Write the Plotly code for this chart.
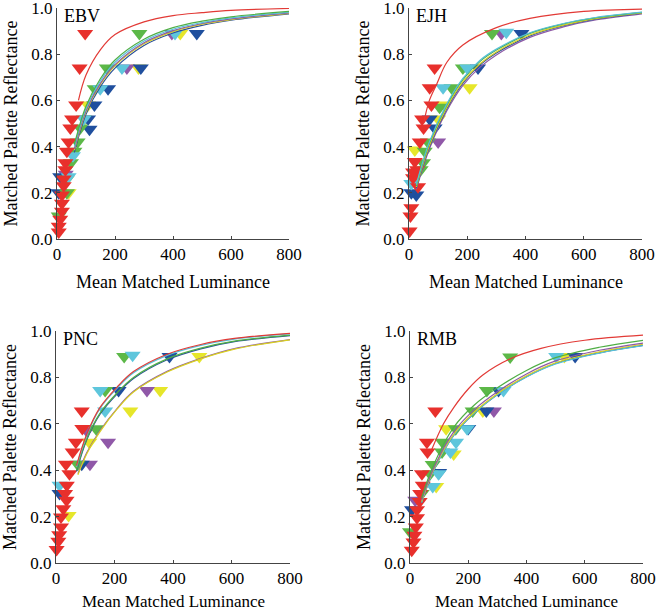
import plotly.graph_objects as go
from plotly.subplots import make_subplots

PANEL_NAMES = ["EBV", "EJH", "PNC", "RMB"]
X_TICKS = [0, 200, 400, 600, 800]
Y_TICKS = [0.0, 0.2, 0.4, 0.6, 0.8, 1.0]
X_TITLE = "Mean Matched Luminance"
Y_TITLE = "Matched Palette Reflectance"
SERIES = ["yellow", "purple", "blue", "green", "cyan", "red"]

# ---------------- EBV markers ----------------
EBV_RED_X = [97, 78, 66, 52, 46, 40, 34, 29, 29, 23, 23, 17, 17, 17, 11, 6, 6]
EBV_RED_Y = [0.89, 0.74, 0.58, 0.52, 0.48, 0.42, 0.38, 0.33, 0.30, 0.26, 0.23, 0.19, 0.155, 0.12, 0.085, 0.055, 0.03]
EBV_GREEN_X = [284, 172, 130, 80, 71, 60, 48, 34, 34, 6]
EBV_GREEN_Y = [0.89, 0.74, 0.65, 0.48, 0.42, 0.38, 0.33, 0.26, 0.20, 0.10]
EBV_CYAN_X = [407, 224, 149, 92, 55, 40]
EBV_CYAN_Y = [0.89, 0.74, 0.65, 0.52, 0.36, 0.27]
EBV_PURPLE_X = [396, 241, 30]
EBV_PURPLE_Y = [0.89, 0.74, 0.28]
EBV_YELLOW_X = [425, 281, 107, 94, 40]
EBV_YELLOW_Y = [0.89, 0.74, 0.58, 0.52, 0.20]
EBV_BLUE_X = [482, 289, 176, 129, 107, 112, 11, 6]
EBV_BLUE_Y = [0.89, 0.74, 0.65, 0.58, 0.52, 0.475, 0.27, 0.20]

# ---------------- EJH markers ----------------
EJH_RED_X = [88, 71, 77, 45, 50, 37, 20, 28, 14, 31, 14, 8, 5, 2]
EJH_RED_Y = [0.74, 0.655, 0.58, 0.52, 0.48, 0.42, 0.335, 0.30, 0.265, 0.226, 0.29, 0.135, 0.10, 0.035]
EJH_GREEN_X = [285, 185, 146, 105, 65, 54, 48, 40]
EJH_GREEN_Y = [0.89, 0.74, 0.655, 0.57, 0.42, 0.38, 0.33, 0.30]
EJH_CYAN_X = [334, 200, 117, 8]
EJH_CYAN_Y = [0.895, 0.74, 0.655, 0.24]
EJH_PURPLE_X = [317, 100]
EJH_PURPLE_Y = [0.89, 0.42]
EJH_YELLOW_X = [208, 122, 100, 20]
EJH_YELLOW_Y = [0.655, 0.58, 0.52, 0.385]
EJH_BLUE_X = [386, 237, 71, 88, 25, 8]
EJH_BLUE_Y = [0.89, 0.74, 0.52, 0.48, 0.19, 0.20]

# ---------------- PNC markers ----------------
PNC_RED_X = [88, 90, 68, 57, 34, 46, 37, 31, 36, 25, 17, 17, 11, 8, 2]
PNC_RED_Y = [0.655, 0.58, 0.52, 0.478, 0.426, 0.385, 0.335, 0.30, 0.27, 0.234, 0.198, 0.155, 0.122, 0.094, 0.058]
PNC_GREEN_X = [233, 168, 137, 74]
PNC_GREEN_Y = [0.89, 0.744, 0.579, 0.426]
PNC_CYAN_X = [262, 151, 168, 12]
PNC_CYAN_Y = [0.895, 0.744, 0.655, 0.335]
PNC_BLUE_X = [388, 214, 88, 12]
PNC_BLUE_Y = [0.89, 0.744, 0.426, 0.30]
PNC_PURPLE_X = [311, 178, 116, 105]
PNC_PURPLE_Y = [0.744, 0.52, 0.426, 0.57]
PNC_YELLOW_X = [490, 356, 254, 114, 43]
PNC_YELLOW_Y = [0.89, 0.744, 0.655, 0.52, 0.205]

# ---------------- RMB markers ----------------
RMB_RED_X = [87, 58, 60, 41, 44, 35, 33, 24, 24, 20, 15, 12, 6]
RMB_RED_Y = [0.655, 0.52, 0.478, 0.385, 0.335, 0.30, 0.265, 0.23, 0.195, 0.155, 0.12, 0.09, 0.055]
RMB_GREEN_X = [344, 264, 215, 157, 112, 110, 78, 69, 40, 0]
RMB_GREEN_Y = [0.888, 0.744, 0.655, 0.579, 0.52, 0.478, 0.425, 0.385, 0.30, 0.135]
RMB_CYAN_X = [502, 321, 196, 158, 139, 98, 78]
RMB_CYAN_Y = [0.89, 0.744, 0.579, 0.52, 0.478, 0.385, 0.33]
RMB_YELLOW_X = [530, 250, 124, 150, 90]
RMB_YELLOW_Y = [0.89, 0.655, 0.579, 0.47, 0.33]
RMB_BLUE_X = [567, 304, 262, 200, 100, 7]
RMB_BLUE_Y = [0.89, 0.744, 0.655, 0.58, 0.39, 0.23]
RMB_PURPLE_X = [288, 18]
RMB_PURPLE_Y = [0.655, 0.27]

# ---------------- fitted curves ----------------
EBV_RED_CX = [74, 100, 150, 200, 300, 400, 500, 600, 800]
EBV_RED_CY = [0.60, 0.71, 0.82, 0.885, 0.94, 0.967, 0.98, 0.99, 0.998]
EBV_CX = [60, 100, 150, 200, 300, 400, 500, 600, 800]
EBV_GREEN_CY = [0.41, 0.575, 0.695, 0.775, 0.865, 0.915, 0.943, 0.962, 0.985]
EBV_CYAN_CY = [0.40, 0.565, 0.685, 0.765, 0.857, 0.908, 0.937, 0.957, 0.982]
EBV_PURPLE_CY = [0.39, 0.555, 0.675, 0.755, 0.85, 0.902, 0.933, 0.953, 0.979]
EBV_YELLOW_CY = [0.385, 0.55, 0.67, 0.75, 0.845, 0.898, 0.93, 0.95, 0.977]
EBV_BLUE_CY = [0.375, 0.54, 0.66, 0.74, 0.838, 0.892, 0.925, 0.947, 0.975]

EJH_RED_CX = [50, 70, 95, 130, 185, 300, 415, 600, 800]
EJH_RED_CY = [0.50, 0.60, 0.67, 0.765, 0.84, 0.915, 0.955, 0.985, 0.995]
EJH_CX = [25, 70, 130, 185, 245, 300, 415, 530, 645, 800]
EJH_CYAN_CY = [0.235, 0.42, 0.585, 0.695, 0.775, 0.822, 0.893, 0.933, 0.96, 0.982]
EJH_GREEN_CY = [0.23, 0.415, 0.58, 0.69, 0.77, 0.818, 0.89, 0.931, 0.958, 0.981]
EJH_YELLOW_CY = [0.225, 0.405, 0.57, 0.68, 0.76, 0.81, 0.883, 0.926, 0.955, 0.979]
EJH_BLUE_CY = [0.22, 0.40, 0.565, 0.675, 0.755, 0.805, 0.879, 0.923, 0.953, 0.978]
EJH_PURPLE_CY = [0.215, 0.39, 0.555, 0.665, 0.745, 0.797, 0.873, 0.918, 0.949, 0.975]

PNC_UP_CX = [70, 105, 150, 210, 265, 380, 495, 610, 800]
PNC_RED_CY = [0.42, 0.555, 0.67, 0.76, 0.825, 0.90, 0.942, 0.968, 0.99]
PNC_CYAN_CY = [0.415, 0.55, 0.665, 0.755, 0.82, 0.895, 0.938, 0.965, 0.988]
PNC_GREEN_CY = [0.40, 0.535, 0.645, 0.735, 0.80, 0.88, 0.926, 0.956, 0.982]
PNC_BLUE_CY = [0.395, 0.53, 0.64, 0.73, 0.795, 0.876, 0.923, 0.954, 0.98]
PNC_LOW_CX = [75, 105, 150, 210, 265, 380, 495, 610, 800]
PNC_PURPLE_CY = [0.385, 0.475, 0.57, 0.668, 0.74, 0.826, 0.882, 0.924, 0.963]
PNC_YELLOW_CY = [0.38, 0.47, 0.565, 0.665, 0.737, 0.823, 0.88, 0.922, 0.962]

RMB_RED_CX = [75, 115, 150, 200, 250, 344, 450, 600, 800]
RMB_RED_CY = [0.49, 0.60, 0.67, 0.75, 0.81, 0.88, 0.925, 0.96, 0.982]
RMB_CX = [40, 80, 150, 220, 300, 400, 500, 650, 800]
RMB_GREEN_CY = [0.28, 0.42, 0.585, 0.68, 0.755, 0.83, 0.885, 0.93, 0.96]
RMB_PURPLE_CY = [0.27, 0.405, 0.565, 0.66, 0.738, 0.815, 0.871, 0.917, 0.948]
RMB_YELLOW_CY = [0.265, 0.40, 0.555, 0.65, 0.73, 0.807, 0.863, 0.91, 0.943]
RMB_CYAN_CY = [0.26, 0.395, 0.55, 0.645, 0.725, 0.802, 0.858, 0.905, 0.937]
RMB_BLUE_CY = [0.26, 0.395, 0.55, 0.645, 0.726, 0.803, 0.86, 0.906, 0.938]

# ---------------- styling ----------------
MARKER_COLORS = {
    "red": "#e8302c", "green": "#5cb848", "cyan": "#5ec6dc",
    "blue": "#1f4f9e", "purple": "#9058a8", "yellow": "#e6e62a",
}
LINE_COLORS = {
    "red": "#e23a36", "green": "#4fae45", "cyan": "#56c0d8",
    "blue": "#2a4f9a", "purple": "#8e5aa6", "yellow": "#d8d020",
}
FONT = "Liberation Serif"

markers = {
    "EBV": {"red": (EBV_RED_X, EBV_RED_Y), "green": (EBV_GREEN_X, EBV_GREEN_Y),
            "cyan": (EBV_CYAN_X, EBV_CYAN_Y), "purple": (EBV_PURPLE_X, EBV_PURPLE_Y),
            "yellow": (EBV_YELLOW_X, EBV_YELLOW_Y), "blue": (EBV_BLUE_X, EBV_BLUE_Y)},
    "EJH": {"red": (EJH_RED_X, EJH_RED_Y), "green": (EJH_GREEN_X, EJH_GREEN_Y),
            "cyan": (EJH_CYAN_X, EJH_CYAN_Y), "purple": (EJH_PURPLE_X, EJH_PURPLE_Y),
            "yellow": (EJH_YELLOW_X, EJH_YELLOW_Y), "blue": (EJH_BLUE_X, EJH_BLUE_Y)},
    "PNC": {"red": (PNC_RED_X, PNC_RED_Y), "green": (PNC_GREEN_X, PNC_GREEN_Y),
            "cyan": (PNC_CYAN_X, PNC_CYAN_Y), "purple": (PNC_PURPLE_X, PNC_PURPLE_Y),
            "yellow": (PNC_YELLOW_X, PNC_YELLOW_Y), "blue": (PNC_BLUE_X, PNC_BLUE_Y)},
    "RMB": {"red": (RMB_RED_X, RMB_RED_Y), "green": (RMB_GREEN_X, RMB_GREEN_Y),
            "cyan": (RMB_CYAN_X, RMB_CYAN_Y), "purple": (RMB_PURPLE_X, RMB_PURPLE_Y),
            "yellow": (RMB_YELLOW_X, RMB_YELLOW_Y), "blue": (RMB_BLUE_X, RMB_BLUE_Y)},
}
curves = {
    "EBV": [("blue", EBV_CX, EBV_BLUE_CY), ("yellow", EBV_CX, EBV_YELLOW_CY),
            ("purple", EBV_CX, EBV_PURPLE_CY), ("cyan", EBV_CX, EBV_CYAN_CY),
            ("green", EBV_CX, EBV_GREEN_CY), ("red", EBV_RED_CX, EBV_RED_CY)],
    "EJH": [("purple", EJH_CX, EJH_PURPLE_CY), ("blue", EJH_CX, EJH_BLUE_CY),
            ("yellow", EJH_CX, EJH_YELLOW_CY), ("green", EJH_CX, EJH_GREEN_CY),
            ("cyan", EJH_CX, EJH_CYAN_CY), ("red", EJH_RED_CX, EJH_RED_CY)],
    "PNC": [("purple", PNC_LOW_CX, PNC_PURPLE_CY), ("yellow", PNC_LOW_CX, PNC_YELLOW_CY),
            ("blue", PNC_UP_CX, PNC_BLUE_CY), ("green", PNC_UP_CX, PNC_GREEN_CY),
            ("cyan", PNC_UP_CX, PNC_CYAN_CY), ("red", PNC_UP_CX, PNC_RED_CY)],
    "RMB": [("blue", RMB_CX, RMB_BLUE_CY), ("cyan", RMB_CX, RMB_CYAN_CY),
            ("yellow", RMB_CX, RMB_YELLOW_CY), ("purple", RMB_CX, RMB_PURPLE_CY),
            ("green", RMB_CX, RMB_GREEN_CY), ("red", RMB_RED_CX, RMB_RED_CY)],
}

W, H = 656, 610
# panel pixel boxes (left, right, top, bottom)
BOXES = [(57, 289, 8, 239), (409, 642, 8, 239), (56, 290, 331, 563), (410, 643, 331, 563)]
XTITLE_SHIFT = [-43, -43, -38, -38]
XTITLE_SIZE = [18, 18, 17, 17]

fig = make_subplots(rows=2, cols=2)
positions = [(1, 1), (1, 2), (2, 1), (2, 2)]

for idx, name in enumerate(PANEL_NAMES):
    r, c = positions[idx]
    for s in SERIES:
        xs, ys = markers[name][s]
        fig.add_trace(go.Scatter(
            x=xs, y=ys, mode="markers", cliponaxis=False, showlegend=False,
            marker=dict(symbol="triangle-down", size=14, color=MARKER_COLORS[s],
                        line=dict(width=0))), row=r, col=c)
    for s, cx, cy in curves[name]:
        fig.add_trace(go.Scatter(
            x=cx, y=cy, mode="lines", showlegend=False,
            line=dict(color=LINE_COLORS[s], width=1.2, shape="spline", smoothing=1.0)),
            row=r, col=c)

annotations = []
for idx, name in enumerate(PANEL_NAMES):
    L, R, T, B = BOXES[idx]
    ax = "" if idx == 0 else str(idx + 1)
    tickfont = dict(family=FONT, size=17, color="black")
    fig.layout["xaxis" + ax].update(
        domain=[L / W, R / W], range=[0, 800], tickvals=X_TICKS, automargin=False,
        ticks="inside", ticklen=3, tickcolor="#444", showline=True, linecolor="#444",
        linewidth=1, showgrid=False, zeroline=False, ticklabeloverflow="allow",
        tickfont=tickfont)
    fig.layout["yaxis" + ax].update(
        domain=[1 - B / H, 1 - T / H], range=[0, 1], tickvals=Y_TICKS, tickformat=".1f",
        automargin=False, ticklabeloverflow="allow",
        ticks="inside", ticklen=3, tickcolor="#444", showline=True, linecolor="#444",
        linewidth=1, showgrid=False, zeroline=False,
        tickfont=tickfont)
    xref = "x" + ax + " domain"
    yref = "y" + ax + " domain"
    annotations.append(dict(text=name, xref=xref, yref=yref, x=0.02, y=1.0,
                            xanchor="left", yanchor="top", yshift=4, showarrow=False,
                            font=dict(family=FONT, size=18, color="black")))
    annotations.append(dict(text=X_TITLE, xref=xref, yref=yref, x=0.5, y=0,
                            xanchor="center", yanchor="middle", yshift=XTITLE_SHIFT[idx],
                            showarrow=False,
                            font=dict(family=FONT, size=XTITLE_SIZE[idx], color="black")))
    annotations.append(dict(text=Y_TITLE, xref=xref, yref=yref, x=0, y=0.5,
                            xanchor="center", yanchor="middle", xshift=-46, textangle=-90,
                            showarrow=False, font=dict(family=FONT, size=18, color="black")))

fig.update_layout(
    width=W, height=H, margin=dict(l=0, r=0, t=0, b=0, autoexpand=False),
    paper_bgcolor="white", plot_bgcolor="white", showlegend=False,
    annotations=annotations, font=dict(family=FONT, color="black"),
)

fig.write_html("out.html", config={"displayModeBar": False},
               post_script="document.body.style.margin='0';document.body.style.padding='0';document.body.style.overflow='hidden';")
